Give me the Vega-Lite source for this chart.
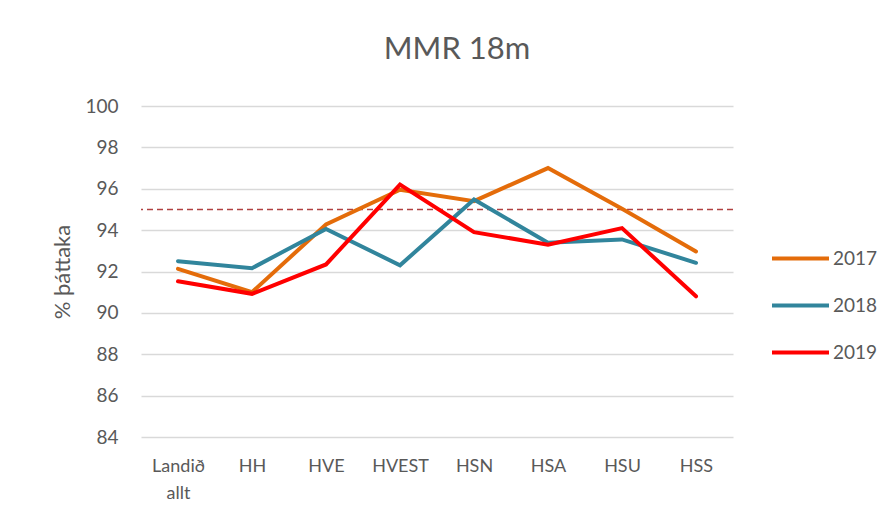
{
  "$schema": "https://vega.github.io/schema/vega-lite/v6.json",
  "width": 592,
  "height": 331,
  "autosize": {"type": "none"},
  "padding": {"left": 141, "top": 106, "right": 160, "bottom": 87},
  "background": "white",
  "config": {
    "font": "Lato",
    "view": {"stroke": null}
  },
  "title": {
    "text": "MMR 18m",
    "fontSize": 31,
    "fontWeight": "normal",
    "color": "#595959",
    "anchor": "middle",
    "dx": 20,
    "offset": 31
  },
  "datasets": {
    "main": [
      {"region": "Landið allt", "year": "2017", "value": 92.13},
      {"region": "HH", "year": "2017", "value": 91.0},
      {"region": "HVE", "year": "2017", "value": 94.27},
      {"region": "HVEST", "year": "2017", "value": 95.95},
      {"region": "HSN", "year": "2017", "value": 95.4},
      {"region": "HSA", "year": "2017", "value": 97.0},
      {"region": "HSU", "year": "2017", "value": 95.03},
      {"region": "HSS", "year": "2017", "value": 92.97},
      {"region": "Landið allt", "year": "2018", "value": 92.5},
      {"region": "HH", "year": "2018", "value": 92.16},
      {"region": "HVE", "year": "2018", "value": 94.06},
      {"region": "HVEST", "year": "2018", "value": 92.3},
      {"region": "HSN", "year": "2018", "value": 95.48},
      {"region": "HSA", "year": "2018", "value": 93.39},
      {"region": "HSU", "year": "2018", "value": 93.55},
      {"region": "HSS", "year": "2018", "value": 92.42},
      {"region": "Landið allt", "year": "2019", "value": 91.53},
      {"region": "HH", "year": "2019", "value": 90.92},
      {"region": "HVE", "year": "2019", "value": 92.34},
      {"region": "HVEST", "year": "2019", "value": 96.2},
      {"region": "HSN", "year": "2019", "value": 93.9},
      {"region": "HSA", "year": "2019", "value": 93.3},
      {"region": "HSU", "year": "2019", "value": 94.1},
      {"region": "HSS", "year": "2019", "value": 90.8}
    ],
    "target": [{"value": 95}]
  },
  "layer": [
    {
      "data": {"name": "target"},
      "mark": {"type": "rule", "color": "#B04040", "strokeDash": [6, 4], "strokeWidth": 1.5},
      "encoding": {
        "y": {"field": "value", "type": "quantitative", "scale": {"domain": [84, 100]}}
      }
    },
    {
      "data": {"name": "main"},
      "mark": {"type": "line", "strokeWidth": 4, "strokeJoin": "miter", "strokeCap": "round"},
      "encoding": {
        "x": {
          "field": "region",
          "type": "nominal",
          "sort": null,
          "scale": {"type": "point", "padding": 0.5},
          "axis": {
            "title": null,
            "labelAngle": 0,
            "labelFontSize": 18,
            "labelColor": "#595959",
            "labelPadding": 20,
            "labelExpr": "datum.label == 'Landið allt' ? ['Landið', 'allt'] : datum.label",
            "labelLineHeight": 27,
            "domain": false,
            "ticks": false,
            "grid": false
          }
        },
        "y": {
          "field": "value",
          "type": "quantitative",
          "scale": {"domain": [84, 100], "nice": false, "zero": false},
          "axis": {
            "title": "% þáttaka",
            "titleFontSize": 22,
            "titleFontWeight": "normal",
            "titleColor": "#595959",
            "titlePadding": 10,
            "values": [84, 86, 88, 90, 92, 94, 96, 98, 100],
            "labelFontSize": 19,
            "labelColor": "#595959",
            "labelPadding": 23,
            "domain": false,
            "ticks": false,
            "grid": true,
            "gridColor": "#D9D9D9",
            "gridWidth": 1.5
          }
        },
        "color": {
          "field": "year",
          "type": "nominal",
          "scale": {"domain": ["2017", "2018", "2019"], "range": ["#E46C0A", "#31859C", "#FF0000"]},
          "legend": {
            "title": null,
            "orient": "none",
            "legendX": 629,
            "legendY": 122,
            "symbolType": "stroke",
            "symbolSize": 3249,
            "symbolStrokeWidth": 4,
            "labelFontSize": 19,
            "labelColor": "#595959",
            "labelOffset": 2,
            "rowPadding": 6
          }
        }
      }
    }
  ]
}
